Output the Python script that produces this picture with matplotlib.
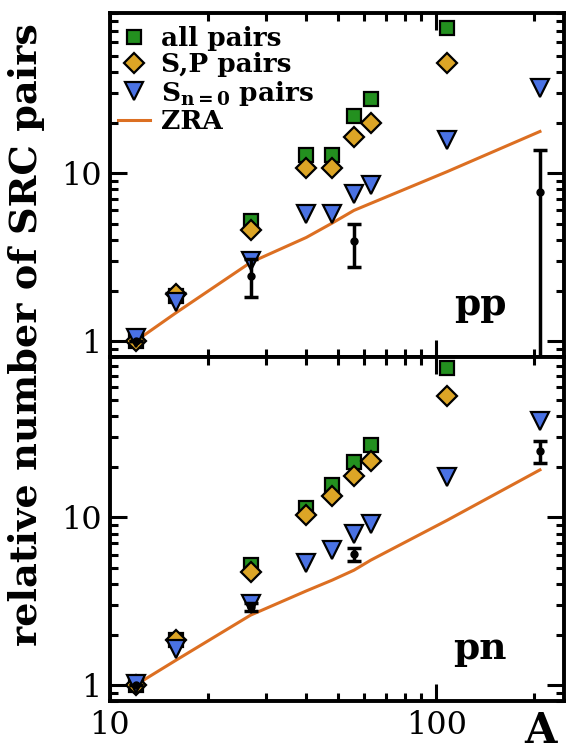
import numpy as np
import matplotlib
matplotlib.use("Agg")
import matplotlib.pyplot as plt
from matplotlib.ticker import LogLocator, NullFormatter, FixedLocator, FixedFormatter

plt.rcParams['font.family'] = 'DejaVu Serif'
plt.rcParams['mathtext.fontset'] = 'dejavuserif'
plt.rcParams['mathtext.default'] = 'bf'

# mass numbers
A = [12, 16, 27, 40, 48, 56, 63, 108, 208]

# pp panel
pp_all = [1.0, 1.86, 5.2, 12.8, 12.8, 21.9, 27.6, 73.5, np.nan]
pp_sp = [1.0, 1.9, 4.6, 10.8, 10.8, 16.4, 19.8, 45.4, np.nan]
pp_s0 = [1.05, 1.7, 3.0, 5.7, 5.7, 7.55, 8.5, 15.8, 32.2]
pp_zra = [1.0, 1.48, 2.94, 4.14, 5.04, 6.0, 6.6, 10.2, 17.7]
pp_exp_A = [12, 27, 56, 208]
pp_exp = [1.0, 2.45, 3.97, 7.73]
pp_exp_lo = [1.0, 1.82, 2.77, 0.5]
pp_exp_hi = [1.0, 3.08, 5.0, 13.7]

# pn panel
pn_all = [1.0, 1.85, 5.2, 11.3, 15.5, 21.3, 27.1, 78.0, np.nan]
pn_sp = [1.0, 1.85, 4.73, 10.3, 13.4, 17.6, 21.8, 52.7, np.nan]
pn_s0 = [1.02, 1.65, 3.06, 5.35, 6.42, 8.0, 9.1, 17.5, 37.8]
pn_zra = [1.0, 1.41, 2.61, 3.64, 4.22, 4.84, 5.55, 9.6, 19.2]
pn_exp_A = [12, 27, 56, 208]
pn_exp = [1.0, 2.93, 6.02, 24.8]
pn_exp_lo = [1.0, 2.78, 5.5, 21.2]
pn_exp_hi = [1.0, 3.1, 6.6, 28.7]

green = '#23901f'
gold = '#dca526'
blue = '#4a72e4'
orange = '#dc6f22'

fig = plt.figure(figsize=(5.66, 7.54), dpi=100)
ax1 = fig.add_axes([0.194, 0.526, 0.802, 0.457])
ax2 = fig.add_axes([0.194, 0.070, 0.802, 0.456], sharex=ax1)


def panel(ax, all_p, sp_p, s0_p, zra, ex_A, ex, lo, hi, label):
    ax.plot(A, zra, color=orange, lw=2.2, label='ZRA', zorder=2)
    ax.plot(A, all_p, 's', ms=10, mfc=green, mec='black', mew=1.6, label='all pairs', zorder=3)
    ax.plot(A, sp_p, 'D', ms=10.5, mfc=gold, mec='black', mew=1.6, label='S,P pairs', zorder=4)
    ax.plot(A, s0_p, 'v', ms=13, mfc=blue, mec='black', mew=1.6,
            label=r'S$_{n{=}0}$ pairs', zorder=5)
    ex = np.array(ex)
    yerr = [ex - np.array(lo), np.array(hi) - ex]
    ax.errorbar(ex_A, ex, yerr=yerr, fmt='o', color='black', ms=5, lw=2.5,
                capsize=5, capthick=2.5, zorder=6)
    ax.set_xscale('log')
    ax.set_yscale('log')
    ax.set_xlim(10, 246)
    ax.set_ylim(0.8, 90)
    ax.text(0.875, 0.1, label, transform=ax.transAxes, ha='right', va='bottom',
            fontsize=27, fontweight='bold')
    for s in ax.spines.values():
        s.set_linewidth(2.8)
    ax.tick_params(which='both', direction='in', top=True, right=True, width=2.2,
                   labelsize=23, pad=6)
    ax.tick_params(which='major', length=12)
    ax.tick_params(which='minor', length=6)
    ax.yaxis.set_major_locator(FixedLocator([1, 10]))
    ax.yaxis.set_major_formatter(FixedFormatter(['1', '10']))
    ax.yaxis.set_minor_locator(LogLocator(base=10, subs=np.arange(2, 10)))
    ax.yaxis.set_minor_formatter(NullFormatter())
    ax.xaxis.set_minor_locator(LogLocator(base=10, subs=np.arange(2, 10)))
    ax.xaxis.set_minor_formatter(NullFormatter())


panel(ax1, pp_all, pp_sp, pp_s0, pp_zra, pp_exp_A, pp_exp, pp_exp_lo, pp_exp_hi, 'pp')
panel(ax2, pn_all, pn_sp, pn_s0, pn_zra, pn_exp_A, pn_exp, pn_exp_lo, pn_exp_hi, 'pn')

ax1.tick_params(labelbottom=False)
ax2.xaxis.set_major_locator(FixedLocator([10, 100]))
ax2.xaxis.set_major_formatter(FixedFormatter(['10', '100']))

h, l = ax1.get_legend_handles_labels()
order = [1, 2, 3, 0]
ax1.legend([h[i] for i in order], [l[i] for i in order], loc='upper left',
           frameon=False, prop={'weight': 'bold', 'size': 19}, handlelength=1.2,
           handletextpad=0.4, labelspacing=0.05, borderaxespad=0.1,
           bbox_to_anchor=(-0.01, 1.0))

fig.text(0.047, 0.556, 'relative number of SRC pairs', rotation=90, ha='center',
         va='center', fontsize=27.5, fontweight='bold')
fig.text(0.955, 0.002, 'A', ha='center', va='bottom', fontsize=30, fontweight='bold')

fig.savefig('out.png', dpi=100)
